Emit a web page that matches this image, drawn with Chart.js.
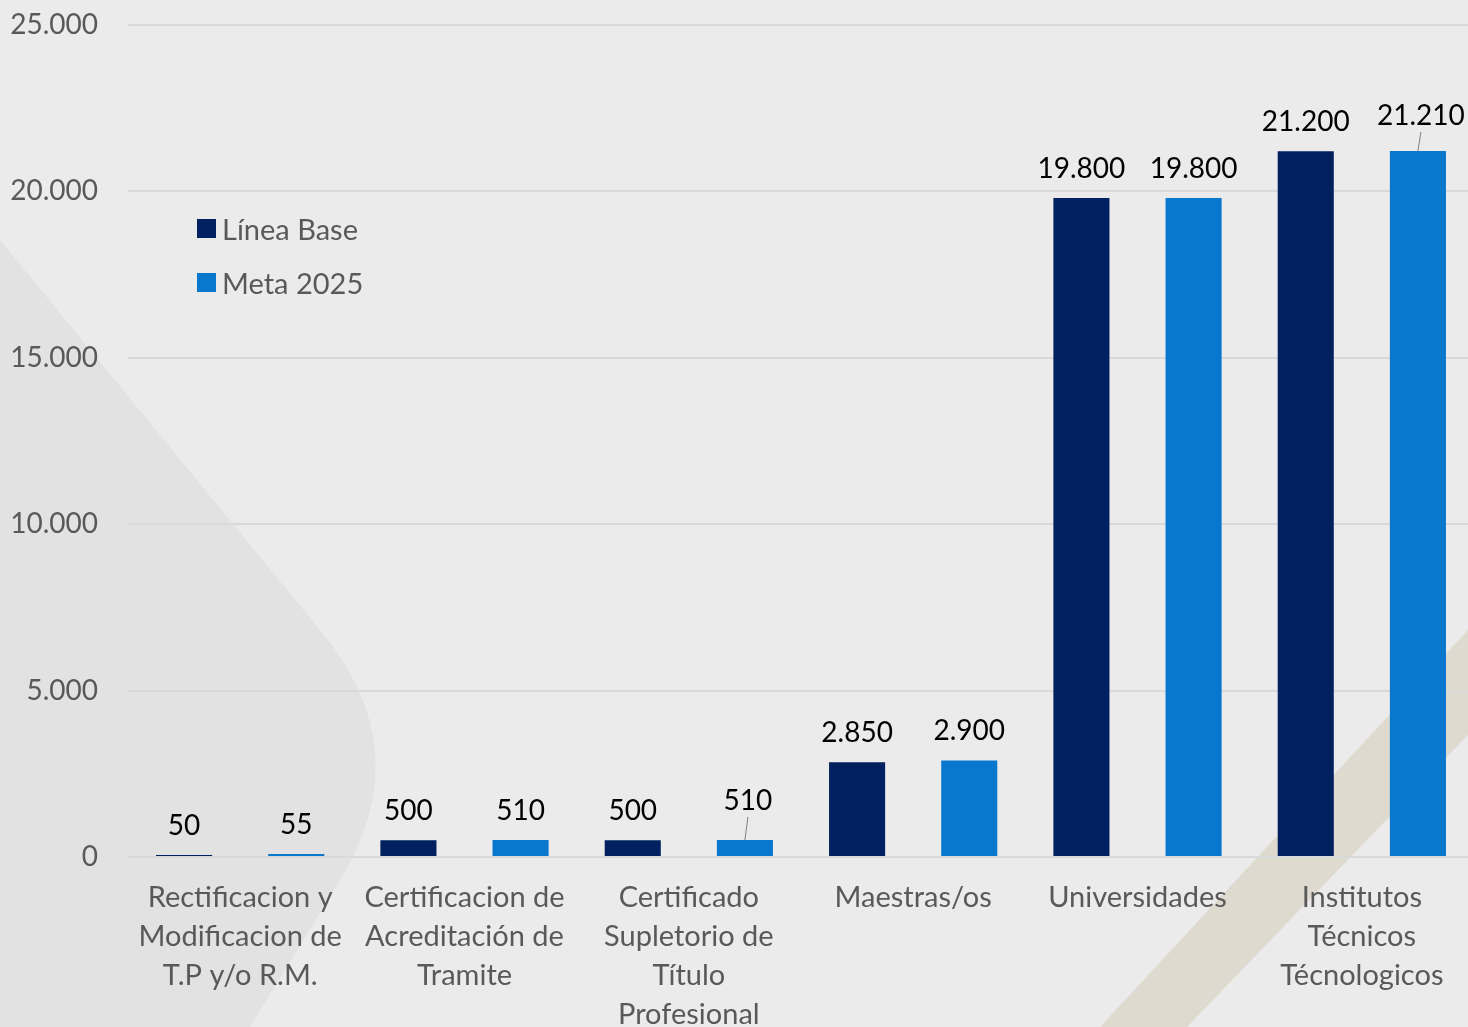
<!DOCTYPE html>
<html>
<head>
<meta charset="utf-8">
<script src="https://cdn.jsdelivr.net/npm/chart.js@4"></script>
<style>
  html, body { margin: 0; padding: 0; background: #ebebeb; }
  #wrap { position: relative; width: 1468px; height: 1027px; overflow: hidden; }
  #fondo { position: absolute; left: 0; top: 0; }
  #caja { position: absolute; left: 0; top: -22px; width: 1474px; height: 1049px; }
  #legend { position: absolute; left: 197px; top: 201px; font-family: Lato, sans-serif; font-size: 29px; color: #595959; }
  #legend div { height: 54px; display: flex; align-items: center; }
  #legend span.box { display: inline-block; width: 19px; height: 19px; margin-right: 6px; }
</style>
</head>
<body>
<div id="wrap">
  <canvas id="fondo" width="1468" height="1027"></canvas>
  <div id="caja"><canvas id="myChart"></canvas></div>
  <div id="legend"></div>
</div>
<script>
const categorias = [
  ['Rectificacion y', 'Modificacion de', 'T.P y/o R.M.'],
  ['Certificacion de', 'Acreditación de', 'Tramite'],
  ['Certificado', 'Supletorio de', 'Título', 'Profesional'],
  'Maestras/os',
  'Universidades',
  ['Institutos', 'Técnicos', 'Técnologicos']
];
const lineaBase = [50, 500, 500, 2850, 19800, 21200];
const meta2025 = [55, 510, 510, 2900, 19800, 21210];
const yTicks = [0, 5000, 10000, 15000, 20000, 25000];

function formato(v) {
  return String(v).replace(/\B(?=(\d{3})+(?!\d))/g, '.');
}

// fondo tipo papel con la forma gris y la franja dorada
(function () {
  const ctx = document.getElementById('fondo').getContext('2d');
  ctx.fillStyle = '#ebebeb';
  ctx.fillRect(0, 0, 1468, 1027);
  ctx.fillStyle = 'rgba(200,200,200,0.25)';
  ctx.beginPath();
  ctx.moveTo(0, 240);
  ctx.lineTo(320, 630);
  ctx.quadraticCurveTo(420, 750, 340, 880);
  ctx.lineTo(250, 1027);
  ctx.lineTo(0, 1027);
  ctx.closePath();
  ctx.fill();
  ctx.fillStyle = 'rgba(195,180,145,0.3)';
  ctx.beginPath();
  ctx.moveTo(1468, 630);
  ctx.lineTo(1468, 735);
  ctx.lineTo(1187, 1027);
  ctx.lineTo(1100, 1027);
  ctx.closePath();
  ctx.fill();
})();

const etiquetas = {
  id: 'etiquetas',
  afterDatasetsDraw(chart, args, opts) {
    const ctx = chart.ctx;
    ctx.save();
    ctx.font = '28px Lato, sans-serif';
    ctx.fillStyle = '#000';
    ctx.textAlign = 'center';
    ctx.textBaseline = 'middle';
    chart.data.datasets.forEach((ds, i) => {
      chart.getDatasetMeta(i).data.forEach((bar, j) => {
        const lift = (opts.lift[i] && opts.lift[i][j]) || 0;
        const y = bar.y - 29 - lift;
        if (lift) {
          ctx.strokeStyle = '#7f7f7f';
          ctx.lineWidth = 1;
          ctx.beginPath();
          ctx.moveTo(bar.x, bar.y);
          ctx.lineTo(bar.x + 3, y + 16);
          ctx.stroke();
        }
        ctx.fillText(formato(ds.data[j]), bar.x + (lift ? 3 : 0), y);
      });
    });
    ctx.restore();
  }
};

const data = {
  labels: categorias,
  datasets: [{
    label: 'Línea Base',
    backgroundColor: '#002060',
    data: lineaBase,
    minBarLength: 2
  }, {
    label: 'Meta 2025',
    backgroundColor: '#0878cf',
    data: meta2025,
    minBarLength: 3
  }]
};

const config = {
  type: 'bar',
  data,
  plugins: [etiquetas],
  options: {
    responsive: true,
    maintainAspectRatio: false,
    animation: false,
    layout: { padding: { top: 1, right: 0, left: 0, bottom: 0 } },
    datasets: { bar: { categoryPercentage: 1.0, barPercentage: 0.5 } },
    plugins: {
      legend: { display: false },
      tooltip: { enabled: false },
      etiquetas: { lift: [[], [0, 0, 10, 0, 0, 6]] }
    },
    scales: {
      x: {
        grid: { display: false },
        border: { display: false },
        ticks: {
          color: '#595959',
          font: { family: 'Lato, sans-serif', size: 29, lineHeight: 1.35 },
          padding: 13,
          maxRotation: 0,
          autoSkip: false
        },
        afterFit(scale) { scale.height = 170; }
      },
      y: {
        min: 0,
        max: 25000,
        afterBuildTicks(scale) { scale.ticks = yTicks.map(v => ({ value: v })); },
        grid: { color: '#d9d9d9', lineWidth: 2, drawTicks: false },
        border: { display: false },
        ticks: {
          color: '#595959',
          font: { family: 'Lato, sans-serif', size: 28 },
          padding: 30,
          callback: v => formato(v)
        },
        afterFit(scale) { scale.width = 128; }
      }
    }
  }
};

const myChart = new Chart(document.getElementById('myChart'), config);

const leyenda = document.getElementById('legend');
data.datasets.forEach(ds => {
  const fila = document.createElement('div');
  fila.innerHTML = '<span class="box" style="background:' + ds.backgroundColor + '"></span>' + ds.label;
  leyenda.appendChild(fila);
});
</script>
</body>
</html>
